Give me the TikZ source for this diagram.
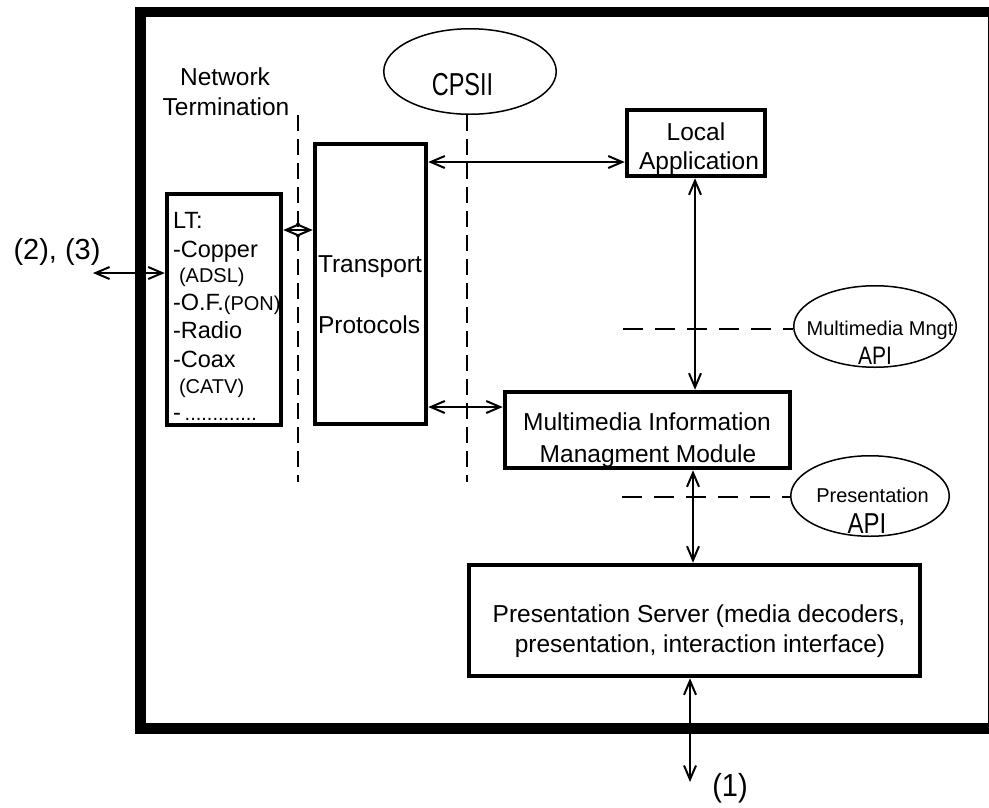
\documentclass[tikz,border=0pt]{standalone}
\usepackage{fontspec}
\usepackage{graphicx}
\setmainfont{Liberation Sans}
\usetikzlibrary{arrows.meta,shapes.geometric}
\begin{document}
\begin{tikzpicture}[x=1pt,y=-1pt,
  box/.style={draw, rectangle, line width=4.5pt, inner sep=0pt},
  oval/.style={draw, ellipse, line width=1.5pt, inner sep=0pt},
  lbl/.style={anchor=base, inner sep=0pt, outer sep=0pt},
  lbll/.style={anchor=base west, inner sep=0pt, outer sep=0pt},
  big/.style={font=\fontsize{24.5}{29}\selectfont},
  mid/.style={font=\fontsize{23.5}{28}\selectfont},
  small/.style={font=\fontsize{20}{24}\selectfont},
  huge/.style={font=\fontsize{29}{34}\selectfont},
  tip/.tip={Straight Barb[length=14pt,width=12pt,line width=2pt]},
  biarrow/.style={line width=1.5pt, tip-tip},
  vdash/.style={line width=2pt, dash pattern=on 16pt off 8pt},
  hdash/.style={line width=2pt, dash pattern=on 20pt off 12pt}]
\useasboundingbox (0,0) rectangle (989,807);

% outer frame of the terminal
\draw[line width=10.5pt, line join=miter] (996,12) -- (140.5,12) -- (140.5,728.5) -- (996,728.5);
\draw[line width=1pt] (988,12) -- (988,728.5);

% blocks
\node[box, minimum width=114pt, minimum height=231pt] (LT) at (224,309.5) {};
\node[box, minimum width=111pt, minimum height=280pt] (TP) at (370.5,284) {};
\node[box, minimum width=138pt, minimum height=66pt] (LA) at (696,143) {};
\node[box, minimum width=285pt, minimum height=76pt] (MIMM) at (647.5,430) {};
\node[box, minimum width=451pt, minimum height=111pt] (PS) at (694.5,620.5) {};

% interfaces
\node[oval, minimum width=172.5pt, minimum height=85.5pt] (CPSII) at (470,71.5) {};
\node[oval, minimum width=162.5pt, minimum height=81.5pt] (MMAPI) at (875,326.5) {};
\node[oval, minimum width=158.5pt, minimum height=80.5pt] (PAPI) at (870,496) {};

% interface boundaries
\coordinate (nt1) at (298,115);
\coordinate (nt2) at (298,482);
\draw[vdash] (nt1) -- (nt2);
\coordinate (cp2) at (467,482);
\draw[vdash] (CPSII.south -| cp2) -- (cp2);
\coordinate (mm1) at (623,329);
\draw[hdash] (mm1) -- (mm1 -| MMAPI.west);
\coordinate (pa1) at (622,497);
\draw[hdash] (pa1) -- (pa1 -| PAPI.west);

% connections
\coordinate (ext) at (93,273);
\draw[biarrow] (ext) -- (ext -| LT.west);
\coordinate (ylt) at (0,230);
\draw[biarrow] (LT.east |- ylt) -- (TP.west |- ylt);
\coordinate (yla) at (0,162);
\draw[biarrow] (TP.east |- yla) -- (LA.west |- yla);
\coordinate (ymi) at (0,407);
\draw[biarrow] (TP.east |- ymi) -- (MIMM.west |- ymi);
\coordinate (xla) at (695,0);
\draw[biarrow] (LA.south -| xla) -- (MIMM.north -| xla);
\coordinate (xps) at (693,0);
\draw[biarrow] (MIMM.south -| xps) -- (PS.north -| xps);
\coordinate (user) at (690,782);
\draw[biarrow] (PS.south -| user) -- (user);

% texts
\node[lbl, big] (t1) at (225,85) {Network};
\node[lbl, big] (t2) at (226,115) {Termination};
\node[lbl, font=\fontsize{23.5}{28}\selectfont] (t3) at (462.5,95) {\scalebox{1}[1.35]{CPSII}};

\node[lbll, mid] (l1) at (173,228) {LT:};
\node[lbll, mid] (l2) at (173,257) {-Copper};
\node[lbll, small] (l3) at (179,282) {(ADSL)};
\node[lbll, mid] (l4) at (173,310) {-O.F.{\fontsize{20}{24}\selectfont(PON)}};
\node[lbll, mid] (l5) at (173,338) {-Radio};
\node[lbll, mid] (l6) at (173,367) {-Coax};
\node[lbll, small] (l7) at (179,393) {(CATV)};
\node[lbll, mid] (l8) at (173,420) {-\,{\fontsize{20}{24}\selectfont.............}};

\node[lbll, big] (p1) at (318,272) {Transport};
\node[lbll, big] (p2) at (318,333) {Protocols};

\node[lbl, big] (a1) at (696,140) {Local};
\node[lbl, big] (a2) at (699,169) {Application};

\node[lbl, small] (m1) at (880,335) {Multimedia Mngt};
\node[lbl, font=\fontsize{21}{25}\selectfont] (m2) at (875,364) {\scalebox{1}[1.2]{API}};

\node[lbl, big] (i1) at (647,430) {Multimedia Information};
\node[lbl, big] (i2) at (648,462) {Managment Module};

\node[lbl, small] (r1) at (872.5,502) {Presentation};
\node[lbl, font=\fontsize{24}{28}\selectfont] (r2) at (867,533) {\scalebox{1}[1.2]{API}};

\node[lbl, big] (s1) at (699,622) {Presentation Server (media decoders,};
\node[lbl, big] (s2) at (700,652) {presentation, interaction interface)};

\node[lbl, huge] (u1) at (730,796) {\scalebox{1}[1.1]{(1)}};
\node[lbl, huge] (u2) at (57,259) {(2), (3)};
\end{tikzpicture}
\end{document}
